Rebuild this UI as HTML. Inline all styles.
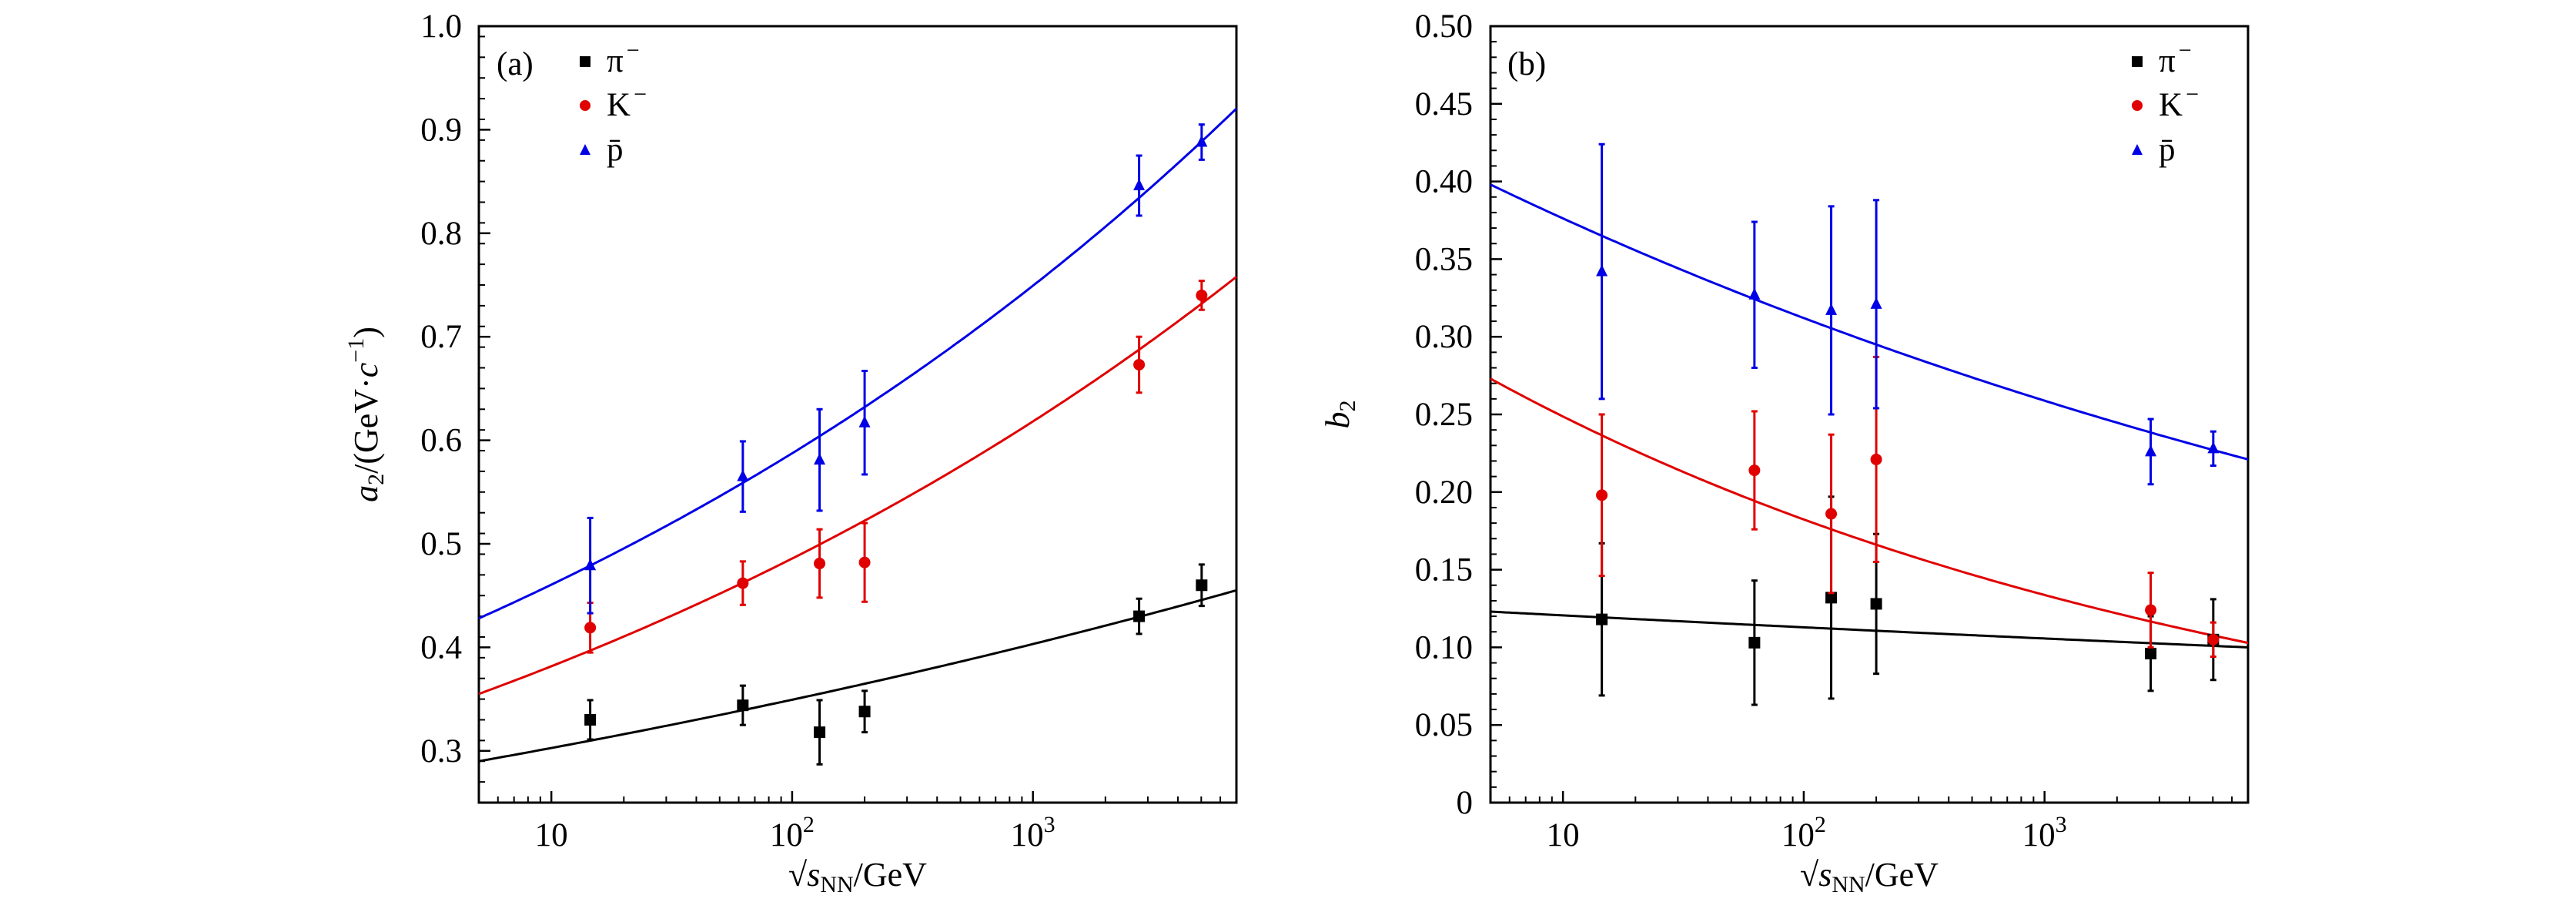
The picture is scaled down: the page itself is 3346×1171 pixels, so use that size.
<!DOCTYPE html>
<html><head><meta charset="utf-8"><style>
html,body{margin:0;padding:0;background:#fff}
svg{display:block}
text{font-family:"Liberation Serif","DejaVu Serif",serif;fill:#000}
</style></head><body>
<svg id="fig" width="3346" height="1171" viewBox="0 0 3346 1171" xmlns="http://www.w3.org/2000/svg"></svg>
<script>
// ---- data ----
const energies = [14.5, 62.4, 130, 200, 2760, 5020];
const seriesNames = ["pi-minus", "k-minus", "pbar"];
const colors = ["#000000", "#e00000", "#0000e6"];
// panel (a) a2 values and error bounds
const a2Pi = [0.330, 0.344, 0.318, 0.338, 0.430, 0.460];
const a2PiErr = [0.019, 0.019, 0.031, 0.020, 0.017, 0.020];
const a2K = [0.419, 0.462, 0.481, 0.482, 0.673, 0.740];
const a2KErr = [0.024, 0.021, 0.033, 0.038, 0.027, 0.014];
const a2P = [0.479, 0.565, 0.581, 0.617, 0.846, 0.888];
const a2PErr = [0.046, 0.034, 0.049, 0.050, 0.029, 0.017];
// panel (b) b2 values and errors
const b2Pi = [0.118, 0.103, 0.132, 0.128, 0.096, 0.105];
const b2PiErr = [0.049, 0.040, 0.065, 0.045, 0.024, 0.026];
const b2K = [0.198, 0.214, 0.186, 0.221, 0.124, 0.105];
const b2KErr = [0.052, 0.038, 0.051, 0.066, 0.024, 0.011];
const b2P = [0.342, 0.327, 0.317, 0.321, 0.226, 0.228];
const b2PErr = [0.082, 0.047, 0.067, 0.067, 0.021, 0.011];
// power-law fits y = A * (x/5)^p
const fitA_a = [0.290, 0.355, 0.428];
const fitP_a = [0.0622, 0.1047, 0.1057];
const fitA_b = [0.123, 0.273, 0.398];
const fitP_b = [-0.0286, -0.1347, -0.0812];
const yTicksA = [0.3, 0.4, 0.5, 0.6, 0.7, 0.8, 0.9, 1.0];
const yTickLabelsA = ["0.3","0.4","0.5","0.6","0.7","0.8","0.9","1.0"];
const yTicksB = [0, 0.05, 0.10, 0.15, 0.20, 0.25, 0.30, 0.35, 0.40, 0.45, 0.50];
const yTickLabelsB = ["0","0.05","0.10","0.15","0.20","0.25","0.30","0.35","0.40","0.45","0.50"];

const NS = "http://www.w3.org/2000/svg";
const svg = document.getElementById("fig");
function mk(tag, attrs, parent){
  const e = document.createElementNS(NS, tag);
  for (const k in attrs) e.setAttribute(k, attrs[k]);
  (parent||svg).appendChild(e);
  return e;
}

function panel(cfg){
  const g = mk("g", {});
  
  
  const L=cfg.left, R=cfg.right, T=34, B=1042;
  const lxmin=Math.log10(5), lxmax=Math.log10(7000);
  const X = v => L + (Math.log10(v)-lxmin)/(lxmax-lxmin)*(R-L);
  const Y = v => B - (v-cfg.ymin)/(cfg.ymax-cfg.ymin)*(B-T);
  const fr = mk("rect",{x:L,y:T,width:R-L,height:B-T,fill:"none",stroke:"#000","stroke-width":3},g);
  
  
  for (let i=0;i<cfg.yTicks.length;i++){
    const y=Y(cfg.yTicks[i]);
    mk("line",{x1:L,x2:L+15,y1:y,y2:y,stroke:"#000","stroke-width":2.5},g);
    const t=mk("text",{x:cfg.labelRight,y:y+14,"text-anchor":"end","font-size":43},g);
    t.textContent=cfg.yLabels[i];
    
    
  }
  for (let v=cfg.ymin; v<=cfg.ymax+1e-9; v+=cfg.minor){
    const y=Y(v);
    mk("line",{x1:L,x2:L+8,y1:y,y2:y,stroke:"#000","stroke-width":2},g);
  }
  const decs=[10,100,1000], decLab=["10","10","10"], decExp=["","2","3"];
  for (let d=0; d<3; d++){
    const x=X(decs[d]);
    mk("line",{x1:x,x2:x,y1:B,y2:B-15,stroke:"#000","stroke-width":2.5},g);
    const t=mk("text",{x:x,y:1098,"text-anchor":"middle","font-size":43},g);
    
    
    t.textContent=decLab[d];
    if(decExp[d]){ const s=mk("tspan",{"font-size":30,dy:-18},t); s.textContent=decExp[d]; }
  }
  for (let e=0;e<4;e++) for (let m=1;m<10;m++){
    const v=m*Math.pow(10,e);
    if (m===1 && e>0) continue;
    if (v<5||v>7000) continue;
    const x=X(v);
    mk("line",{x1:x,x2:x,y1:B,y2:B-8,stroke:"#000","stroke-width":2},g);
  }
  for (let s=0;s<3;s++){
    let d="";
    for (let i=0;i<=200;i++){
      const lv=lxmin+(lxmax-lxmin)*i/200, v=Math.pow(10,lv);
      const yv=cfg.fitA[s]*Math.pow(v/5,cfg.fitP[s]);
      d+=(i?"L":"M")+X(v).toFixed(1)+" "+Y(yv).toFixed(1);
    }
    const p=mk("path",{d:d,fill:"none",stroke:colors[s],"stroke-width":3},g);
    
    
  }
  for (let s=0;s<3;s++){
    const vals=cfg.vals[s], errs=cfg.errs[s];
    for (let i=0;i<energies.length;i++){
      const x=X(energies[i]), y=Y(vals[i]), y1=Y(vals[i]-errs[i]), y2=Y(vals[i]+errs[i]);
      mk("line",{x1:x,x2:x,y1:y1,y2:y2,stroke:colors[s],"stroke-width":3},g);
      mk("line",{x1:x-4,x2:x+4,y1:y1,y2:y1,stroke:colors[s],"stroke-width":3},g);
      mk("line",{x1:x-4,x2:x+4,y1:y2,y2:y2,stroke:colors[s],"stroke-width":3},g);
      let m;
      if (s===0) m=mk("rect",{x:x-7.5,y:y-7.5,width:15,height:15,fill:colors[s]},g);
      else if (s===1) m=mk("circle",{cx:x,cy:y,r:7.5,fill:colors[s]},g);
      else m=mk("polygon",{points:`${x},${y-9} ${x-7.5},${y+6} ${x+7.5},${y+6}`,fill:colors[s]},g);
      
      
    }
  }
  const pl=mk("text",{x:cfg.tagX,y:97,"font-size":43},g);
  pl.textContent=cfg.tag;
  
  
  const legTxt=[["π","−"],["K","−"],["p̄",""]];
  const ly=[80,137,195];
  for (let s=0;s<3;s++){
    const x=cfg.legX, y=ly[s];
    if (s===0) mk("rect",{x:x-7,y:y-7,width:14,height:14,fill:colors[s]},g);
    else if (s===1) mk("circle",{cx:x,cy:y,r:7,fill:colors[s]},g);
    else mk("polygon",{points:`${x},${y-8} ${x-7},${y+6} ${x+7},${y+6}`,fill:colors[s]},g);
    const t=mk("text",{x:x+28,y:y+13,"font-size":43},g);
    
    
    t.textContent=legTxt[s][0];
    if(legTxt[s][1]){ const sp=mk("tspan",{"font-size":30,dy:-18,dx:4},t); sp.textContent=legTxt[s][1]; }
  }
  const xt=mk("text",{x:(L+R)/2,y:1150,"text-anchor":"middle","font-size":44},g);
  
  
  const r1=mk("tspan",{},xt); r1.textContent="√";
  const r2=mk("tspan",{"font-style":"italic"},xt); r2.textContent="s";
  const r3=mk("tspan",{"font-size":30,dy:8},xt); r3.textContent="NN";
  const r4=mk("tspan",{dy:-8},xt); r4.textContent="/GeV";
  const yt=mk("text",{transform:`translate(${cfg.ytX},${(T+B)/2}) rotate(-90)`,"text-anchor":"middle","font-size":44},g);
  
  
  if (cfg.tag==="(a)"){
    const a=mk("tspan",{"font-style":"italic"},yt); a.textContent="a";
    const b=mk("tspan",{"font-size":30,dy:8},yt); b.textContent="2";
    const c=mk("tspan",{dy:-8},yt); c.textContent="/(GeV·";
    const d=mk("tspan",{"font-style":"italic"},yt); d.textContent="c";
    const e=mk("tspan",{"font-size":30,dy:-18},yt); e.textContent="−1";
    const f=mk("tspan",{dy:18},yt); f.textContent=")";
  } else {
    const a=mk("tspan",{"font-style":"italic"},yt); a.textContent="b";
    const b=mk("tspan",{"font-size":30,dy:8},yt); b.textContent="2";
  }
}

panel({name:"panel-a",tag:"(a)",left:622,right:1606,ymin:0.25,ymax:1.0,minor:0.02,
  yTicks:yTicksA,yLabels:yTickLabelsA,labelRight:600,tagX:645,legX:760,ytX:490,
  vals:[a2Pi,a2K,a2P],errs:[a2PiErr,a2KErr,a2PErr],fitA:fitA_a,fitP:fitP_a});
panel({name:"panel-b",tag:"(b)",left:1936,right:2920,ymin:0,ymax:0.5,minor:0.01,
  yTicks:yTicksB,yLabels:yTickLabelsB,labelRight:1913,tagX:1958,legX:2776,ytX:1752,
  vals:[b2Pi,b2K,b2P],errs:[b2PiErr,b2KErr,b2PErr],fitA:fitA_b,fitP:fitP_b});
</script>
</body></html>
